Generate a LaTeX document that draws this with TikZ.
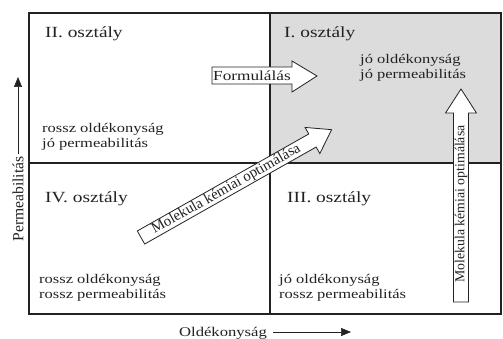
\documentclass[tikz,border=0pt]{standalone}
\usepackage{fontspec}
\setmainfont{Liberation Serif}[FakeStretch=1.25]
\newfontfamily\plainserif{Liberation Serif}
\usetikzlibrary{arrows.meta}
\definecolor{qgray}{HTML}{DCDCDC}
\definecolor{ink}{HTML}{222222}
\tikzset{
  frame/.style={draw=ink, line width=1.1pt},
  ttl/.style={anchor=base west, inner sep=0pt, text=ink, font=\fontsize{15.5}{18}\selectfont},
  txt/.style={anchor=base west, inner sep=0pt, text=ink, font=\fontsize{13.2}{15}\selectfont},
  blockarrow/.style={draw=ink, fill=white, line width=0.8pt, line join=miter},
  axislbl/.style={inner sep=0pt, text=ink},
  axisarrow/.style={draw=ink, line width=0.6pt, -{Triangle[length=10pt,width=8pt]}},
}
\begin{document}
\begin{tikzpicture}[x=1pt,y=1pt]
\useasboundingbox (0,0) rectangle (503,338);
% quadrants
\fill[fill=qgray] (270,175) rectangle (501,325);
\draw[frame] (29,24) rectangle (501,325);
\draw[frame] (270,24) -- (270,325);
\draw[frame] (29,175) -- (501,175);

% titles
\node[ttl] (t2) at (45,300) {II. osztály};
\node[ttl] (t1) at (284,300) {I. osztály};
\node[ttl] (t4) at (45,136) {IV. osztály};
\node[ttl] (t3) at (287,136) {III. osztály};

% descriptions
\node[txt] (d1a) at (360,274) {jó oldékonyság};
\node[txt] (d1b) at (360,259) {jó permeabilitás};
\node[txt] (d2a) at (42,206) {rossz oldékonyság};
\node[txt] (d2b) at (42,191) {jó permeabilitás};
\node[txt] (d4a) at (39,55) {rossz oldékonyság};
\node[txt] (d4b) at (39,40) {rossz permeabilitás};
\node[txt] (d3a) at (279,55) {jó oldékonyság};
\node[txt] (d3b) at (279,40) {rossz permeabilitás};

% Formulálás arrow
\draw[blockarrow] (212,271) -- (292,271) -- (292,277) -- (317,262) -- (292,246) -- (292,254) -- (212,254) -- cycle;
\node[axislbl, font=\fontsize{13.8}{15}\selectfont] (form) at (252,262.5) {Formulálás};

% vertical arrow
\draw[blockarrow] (453.5,36) -- (453.5,225) -- (445.5,225) -- (461,249) -- (476.5,225) -- (468.5,225) -- (468.5,36) -- cycle;
\node[axislbl, rotate=90, font=\plainserif\fontsize{13.8}{16}\selectfont] (vopt) at (461,134) {Molekula kémiai optimálása};

% diagonal arrow
\begin{scope}[shift={(141,100.5)}, rotate=29.5]
\draw[blockarrow] (0,-7.5) -- (197,-7.5) -- (197,-15) -- (219,0) -- (197,15) -- (197,7.5) -- (0,7.5) -- cycle;
\end{scope}
\node[axislbl, rotate=29.5, font=\plainserif\fontsize{14.8}{16}\selectfont] (dopt) at (226.3,148.8) {Molekula kémiai optimálása};

% axes
\node[axislbl, rotate=90, font=\plainserif\fontsize{15.6}{16}\selectfont] (ylbl) at (18,139) {Permeabilitás};
\coordinate (ytip) at (18,261);
\draw[axisarrow] (ylbl.east) ++(0,2) -- (ytip);
\node[axislbl, anchor=base, font=\fontsize{13.3}{15}\selectfont] (xlbl) at (223,2) {Oldékonyság};
\coordinate (xtip) at (351,6);
\draw[axisarrow] ([xshift=6pt]xlbl.east |- xtip) -- (xtip);
\end{tikzpicture}
\end{document}
